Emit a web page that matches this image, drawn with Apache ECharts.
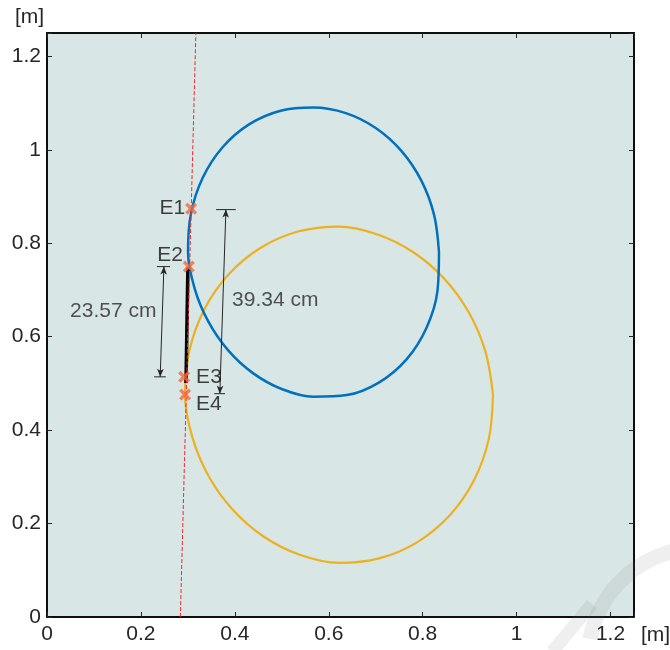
<!DOCTYPE html>
<html><head><meta charset="utf-8">
<script src="https://cdn.jsdelivr.net/npm/echarts@6/dist/echarts.min.js"></script>
<style>html,body{margin:0;padding:0;background:#fff}#c{width:670px;height:650px}</style>
</head><body><div id="c"></div>
<script>
// ---- data (metres) ----
const xTicks = [0, 0.2, 0.4, 0.6, 0.8, 1, 1.2];
const yTicks = [0, 0.2, 0.4, 0.6, 0.8, 1, 1.2];
const blueRing = [[0.8347,0.7810],[0.8316,0.6990],[0.8085,0.6198],[0.7656,0.5515],[0.7066,0.5018],[0.6383,0.4750],[0.5675,0.4714],[0.4997,0.4880],[0.4385,0.5220],[0.3859,0.5706],[0.3440,0.6315],[0.3146,0.7025],[0.3003,0.7810],[0.3063,0.8621],[0.3311,0.9391],[0.3739,1.0054],[0.4310,1.0549],[0.4975,1.0837],[0.5675,1.0906],[0.6363,1.0786],[0.7000,1.0468],[0.7546,0.9978],[0.7969,0.9345],[0.8243,0.8607],[0.8347,0.7810]];
const orangeRing = [[0.9497,0.4757],[0.9409,0.3818],[0.9096,0.2933],[0.8572,0.2172],[0.7880,0.1598],[0.7073,0.1254],[0.6218,0.1157],[0.5381,0.1331],[0.4619,0.1717],[0.3966,0.2284],[0.3449,0.3002],[0.3098,0.3839],[0.2939,0.4757],[0.3031,0.5695],[0.3347,0.6577],[0.3870,0.7335],[0.4560,0.7909],[0.5364,0.8256],[0.6218,0.8357],[0.7055,0.8183],[0.7817,0.7797],[0.8470,0.7230],[0.8987,0.6512],[0.9338,0.5675],[0.9497,0.4757]];
const redLine = [[0.284,0],[0.317,1.25]];
const blackBar = [[0.300,0.748],[0.296,0.501]];
const markerNames = ['E1','E2','E3','E4'];
const markerX = [0.307,0.302,0.292,0.294];
const markerY = [0.874,0.750,0.514,0.476];
const dimLabels = ['23.57 cm','39.34 cm'];
const dimStart = [[0.249,0.750],[0.381,0.872]];
const dimEnd = [[0.241,0.514],[0.368,0.478]];
const dimBarsTop = [[[0.234,0.750],[0.262,0.750]],[[0.360,0.872],[0.402,0.872]]];
const dimBarsBottom = [[[0.228,0.514],[0.253,0.514]],[[0.356,0.478],[0.379,0.478]]];
const dimLabelPos = [[0.141,0.654],[0.486,0.679]];

const FONT = "'Liberation Sans', Arial, Helvetica, sans-serif";
const FS = 21;
const TXT = '#262626';
const chart = echarts.init(document.getElementById('c'), null, {renderer:'canvas'});
const isTick = (v, arr) => arr.some(t => Math.abs(t - v) < 1e-6);
const fmt = (arr) => (v) => isTick(v, arr) ? String(+v.toFixed(1)) : '';

const axisCommon = {
  type:'value', min:0, max:1.25, interval:0.2,
  axisLine:{show:true, onZero:false, lineStyle:{color:'#000', width:1.5}},
  axisTick:{show:true, inside:true, length:5, lineStyle:{color:'#262626', width:1}},
  splitLine:{show:false}
};

const series = [];
series.push({type:'line', data:blueRing, showSymbol:false, smooth:0.35, lineStyle:{color:'#0072bd', width:2.5}, z:3, silent:true});
series.push({type:'line', data:orangeRing, showSymbol:false, smooth:0.35, lineStyle:{color:'#edb120', width:2.2}, z:2, silent:true});
series.push({type:'line', data:blackBar, showSymbol:false, lineStyle:{color:'#000', width:3.5}, z:4, silent:true});
series.push({type:'line', data:redLine, showSymbol:false, lineStyle:{color:'#f0282a', width:1, type:[4,2]}, z:5, silent:true});
for (let i=0;i<dimLabels.length;i++){
  series.push({type:'line', data:dimBarsTop[i], showSymbol:false, lineStyle:{color:'#262626', width:1}, z:4, silent:true});
  series.push({type:'line', data:dimBarsBottom[i], showSymbol:false, lineStyle:{color:'#262626', width:1}, z:4, silent:true});
  series.push({type:'line', data:[], z:4, silent:true,
    markLine:{silent:true, symbol:['arrow','arrow'], symbolSize:[5,8], animation:false,
      label:{show:false}, lineStyle:{color:'#262626', width:1, type:'solid'},
      data:[[{coord:dimStart[i]},{coord:dimEnd[i]}]]}});
}
series.push({type:'scatter', symbolSize:0, silent:true, z:6,
  data: dimLabels.map((t,i)=>({value:dimLabelPos[i], name:t})),
  label:{show:true, position:'inside', formatter:'{b}', color:'#2a2a2a', fontSize:FS, fontFamily:FONT}});
const labelPos = [
  {position:'left', distance:0, offset:[0,0]},
  {position:'left', distance:0, offset:[0,-11]},
  {position:'right', distance:6, offset:[0,0]},
  {position:'right', distance:5, offset:[0,10]}
];
series.push({type:'scatter', z:10, silent:true,
  symbol:'path://M2,0 L5,3 L8,0 L10,2 L7,5 L10,8 L8,10 L5,7 L2,10 L0,8 L3,5 L0,2 Z',
  symbolSize:12, itemStyle:{color:'#f5683a'},
  data: markerNames.map((n,i)=>({value:[markerX[i],markerY[i]], name:n,
    label:Object.assign({show:true, formatter:'{b}', color:'#111', fontSize:FS, fontFamily:FONT}, labelPos[i])}))});

chart.setOption({
  animation:false,
  backgroundColor:'#fff',
  textStyle:{fontFamily:FONT},
  grid:{left:47, right:36, top:33, bottom:33, show:true, backgroundColor:'#d9e6e6', borderColor:'#000', borderWidth:1.5},
  xAxis:[
    Object.assign({}, axisCommon, {position:'bottom', axisLabel:{show:true, margin:7, color:TXT, fontSize:FS, fontFamily:FONT, formatter:fmt(xTicks)}}),
    Object.assign({}, axisCommon, {position:'top', axisLabel:{show:false}})
  ],
  yAxis:[
    Object.assign({}, axisCommon, {position:'left', axisLabel:{show:true, margin:6, color:TXT, fontSize:FS, fontFamily:FONT, formatter:fmt(yTicks)}}),
    Object.assign({}, axisCommon, {position:'right', axisLabel:{show:false}})
  ],
  graphic:[
    {type:'text', left:15, top:7, style:{text:'[m]', fill:TXT, font:FS+'px '+FONT}},
    {type:'text', left:641, top:625, style:{text:'[m]', fill:TXT, font:FS+'px '+FONT}},
    {type:'arc', z:100, silent:true, shape:{cx:700, cy:660, r:112, startAngle:Math.PI*1.06, endAngle:Math.PI*1.55},
      style:{stroke:'rgba(110,110,110,0.11)', lineWidth:15, fill:null}},
    {type:'line', z:100, silent:true, shape:{x1:552, y1:652, x2:592, y2:604},
      style:{stroke:'rgba(110,110,110,0.11)', lineWidth:13}}
  ],
  series: series
});
</script></body></html>
